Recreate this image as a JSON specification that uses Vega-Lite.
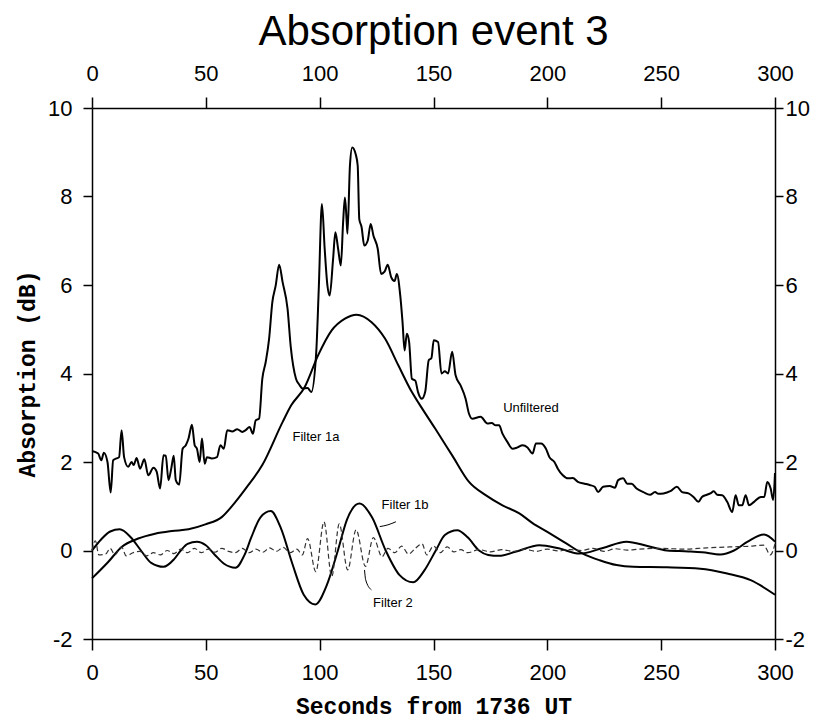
{
  "$schema": "https://vega.github.io/schema/vega-lite/v6.json",
  "width": 683,
  "height": 531,
  "autosize": "none",
  "padding": {"left": 92, "top": 108, "right": 41, "bottom": 83},
  "background": "white",
  "title": {"text": "Absorption event 3", "font": "Liberation Sans", "fontSize": 42, "fontWeight": "normal", "color": "black", "anchor": "middle", "offset": 8},
  "config": {"view": {"stroke": null}},
  "datasets": {
    "solid": [
      {"series":"Unfiltered","t":0,"v":2.25},{"series":"Unfiltered","t":2.7,"v":2.19},{"series":"Unfiltered","t":4.1,"v":2.04},{"series":"Unfiltered","t":5.2,"v":2.21},{"series":"Unfiltered","t":6.8,"v":2.0},{"series":"Unfiltered","t":8.2,"v":1.31},{"series":"Unfiltered","t":9.3,"v":2.04},{"series":"Unfiltered","t":10.7,"v":2.08},{"series":"Unfiltered","t":11.9,"v":2.11},{"series":"Unfiltered","t":13.0,"v":2.72},{"series":"Unfiltered","t":14.1,"v":2.11},{"series":"Unfiltered","t":15.9,"v":1.89},{"series":"Unfiltered","t":17.4,"v":2.0},{"series":"Unfiltered","t":18.3,"v":1.93},{"series":"Unfiltered","t":19.6,"v":2.09},{"series":"Unfiltered","t":21.1,"v":1.85},{"series":"Unfiltered","t":23.0,"v":2.06},{"series":"Unfiltered","t":24.7,"v":1.7},{"series":"Unfiltered","t":27.0,"v":1.87},{"series":"Unfiltered","t":28.4,"v":1.78},{"series":"Unfiltered","t":29.9,"v":1.4},{"series":"Unfiltered","t":31.4,"v":2.15},{"series":"Unfiltered","t":32.4,"v":2.14},{"series":"Unfiltered","t":33.6,"v":1.59},{"series":"Unfiltered","t":34.8,"v":1.85},{"series":"Unfiltered","t":35.9,"v":2.14},{"series":"Unfiltered","t":36.8,"v":1.59},{"series":"Unfiltered","t":38.3,"v":1.49},{"series":"Unfiltered","t":39.8,"v":2.3},{"series":"Unfiltered","t":41.2,"v":2.38},{"series":"Unfiltered","t":42.4,"v":2.53},{"series":"Unfiltered","t":43.9,"v":2.84},{"series":"Unfiltered","t":45.1,"v":2.38},{"series":"Unfiltered","t":46.1,"v":2.3},{"series":"Unfiltered","t":47.3,"v":2.0},{"series":"Unfiltered","t":48.3,"v":2.53},{"series":"Unfiltered","t":49.5,"v":1.96},{"series":"Unfiltered","t":50.5,"v":2.11},{"series":"Unfiltered","t":52.7,"v":2.08},{"series":"Unfiltered","t":54.9,"v":2.11},{"series":"Unfiltered","t":56.4,"v":2.38},{"series":"Unfiltered","t":57.9,"v":2.3},{"series":"Unfiltered","t":59.4,"v":2.72},{"series":"Unfiltered","t":61.6,"v":2.69},{"series":"Unfiltered","t":63.8,"v":2.74},{"series":"Unfiltered","t":66.0,"v":2.68},{"series":"Unfiltered","t":67.5,"v":2.72},{"series":"Unfiltered","t":69.2,"v":2.79},{"series":"Unfiltered","t":70.7,"v":2.64},{"series":"Unfiltered","t":71.9,"v":2.94},{"series":"Unfiltered","t":73.4,"v":2.98},{"series":"Unfiltered","t":74.8,"v":3.88},{"series":"Unfiltered","t":76.3,"v":4.26},{"series":"Unfiltered","t":77.8,"v":4.79},{"series":"Unfiltered","t":79.2,"v":5.61},{"series":"Unfiltered","t":80.7,"v":5.99},{"series":"Unfiltered","t":82.2,"v":6.46},{"series":"Unfiltered","t":83.7,"v":6.07},{"series":"Unfiltered","t":85.9,"v":5.46},{"series":"Unfiltered","t":87.3,"v":4.6},{"series":"Unfiltered","t":89.6,"v":3.88},{"series":"Unfiltered","t":91.0,"v":3.75},{"series":"Unfiltered","t":92.5,"v":3.66},{"series":"Unfiltered","t":94.7,"v":3.67},{"series":"Unfiltered","t":96.3,"v":3.58},{"series":"Unfiltered","t":98.5,"v":4.49},{"series":"Unfiltered","t":99.6,"v":5.91},{"series":"Unfiltered","t":101.0,"v":7.83},{"series":"Unfiltered","t":102.2,"v":6.82},{"series":"Unfiltered","t":103.4,"v":5.99},{"series":"Unfiltered","t":104.4,"v":5.76},{"series":"Unfiltered","t":105.9,"v":6.59},{"series":"Unfiltered","t":106.9,"v":7.19},{"series":"Unfiltered","t":108.1,"v":6.82},{"series":"Unfiltered","t":109.3,"v":6.44},{"series":"Unfiltered","t":110.3,"v":7.42},{"series":"Unfiltered","t":111.1,"v":7.98},{"series":"Unfiltered","t":111.8,"v":7.49},{"series":"Unfiltered","t":112.2,"v":7.16},{"series":"Unfiltered","t":113.3,"v":8.7},{"series":"Unfiltered","t":114.3,"v":9.11},{"series":"Unfiltered","t":115.8,"v":8.96},{"series":"Unfiltered","t":116.7,"v":8.7},{"series":"Unfiltered","t":117.4,"v":7.49},{"series":"Unfiltered","t":118.4,"v":7.31},{"series":"Unfiltered","t":119.6,"v":6.89},{"series":"Unfiltered","t":121.1,"v":7.0},{"series":"Unfiltered","t":122.4,"v":7.38},{"series":"Unfiltered","t":123.6,"v":7.12},{"series":"Unfiltered","t":125.5,"v":6.82},{"series":"Unfiltered","t":127.0,"v":6.25},{"series":"Unfiltered","t":128.5,"v":6.3},{"series":"Unfiltered","t":129.9,"v":6.46},{"series":"Unfiltered","t":131.4,"v":6.18},{"series":"Unfiltered","t":132.9,"v":6.09},{"series":"Unfiltered","t":133.9,"v":6.25},{"series":"Unfiltered","t":135.4,"v":5.76},{"series":"Unfiltered","t":136.4,"v":5.16},{"series":"Unfiltered","t":137.3,"v":4.52},{"series":"Unfiltered","t":138.3,"v":4.9},{"series":"Unfiltered","t":139.3,"v":4.71},{"series":"Unfiltered","t":140.5,"v":3.88},{"series":"Unfiltered","t":142.0,"v":3.84},{"series":"Unfiltered","t":143.2,"v":3.58},{"series":"Unfiltered","t":144.9,"v":3.43},{"series":"Unfiltered","t":146.4,"v":3.6},{"series":"Unfiltered","t":147.9,"v":4.3},{"series":"Unfiltered","t":149.1,"v":4.35},{"series":"Unfiltered","t":150.1,"v":4.75},{"series":"Unfiltered","t":152.0,"v":4.71},{"series":"Unfiltered","t":153.5,"v":4.0},{"series":"Unfiltered","t":155.0,"v":4.05},{"series":"Unfiltered","t":156.4,"v":4.0},{"series":"Unfiltered","t":158.2,"v":4.49},{"series":"Unfiltered","t":159.7,"v":3.96},{"series":"Unfiltered","t":161.9,"v":3.73},{"series":"Unfiltered","t":164.1,"v":3.43},{"series":"Unfiltered","t":165.6,"v":3.09},{"series":"Unfiltered","t":167.0,"v":2.98},{"series":"Unfiltered","t":170.7,"v":3.02},{"series":"Unfiltered","t":173.7,"v":2.87},{"series":"Unfiltered","t":175.6,"v":2.88},{"series":"Unfiltered","t":177.3,"v":2.83},{"series":"Unfiltered","t":178.8,"v":2.83},{"series":"Unfiltered","t":180.3,"v":2.64},{"series":"Unfiltered","t":182.5,"v":2.45},{"series":"Unfiltered","t":184.7,"v":2.3},{"series":"Unfiltered","t":186.9,"v":2.33},{"series":"Unfiltered","t":189.1,"v":2.38},{"series":"Unfiltered","t":191.3,"v":2.33},{"series":"Unfiltered","t":193.5,"v":2.19},{"series":"Unfiltered","t":195.0,"v":2.42},{"series":"Unfiltered","t":197.2,"v":2.42},{"series":"Unfiltered","t":199.4,"v":2.3},{"series":"Unfiltered","t":200.9,"v":2.11},{"series":"Unfiltered","t":203.1,"v":2.0},{"series":"Unfiltered","t":204.6,"v":1.85},{"series":"Unfiltered","t":206.8,"v":1.7},{"series":"Unfiltered","t":209.0,"v":1.63},{"series":"Unfiltered","t":211.2,"v":1.64},{"series":"Unfiltered","t":213.4,"v":1.55},{"series":"Unfiltered","t":216.4,"v":1.51},{"series":"Unfiltered","t":218.6,"v":1.48},{"series":"Unfiltered","t":220.8,"v":1.44},{"series":"Unfiltered","t":222.3,"v":1.32},{"series":"Unfiltered","t":224.5,"v":1.44},{"series":"Unfiltered","t":227.4,"v":1.46},{"series":"Unfiltered","t":229.7,"v":1.42},{"series":"Unfiltered","t":231.1,"v":1.59},{"series":"Unfiltered","t":233.3,"v":1.63},{"series":"Unfiltered","t":235.1,"v":1.51},{"series":"Unfiltered","t":237.0,"v":1.51},{"series":"Unfiltered","t":239.2,"v":1.4},{"series":"Unfiltered","t":242.2,"v":1.32},{"series":"Unfiltered","t":245.1,"v":1.26},{"series":"Unfiltered","t":247.3,"v":1.32},{"series":"Unfiltered","t":248.8,"v":1.28},{"series":"Unfiltered","t":251.0,"v":1.29},{"series":"Unfiltered","t":254.0,"v":1.34},{"series":"Unfiltered","t":256.9,"v":1.44},{"series":"Unfiltered","t":259.2,"v":1.32},{"series":"Unfiltered","t":262.0,"v":1.29},{"series":"Unfiltered","t":264.2,"v":1.21},{"series":"Unfiltered","t":266.4,"v":1.1},{"series":"Unfiltered","t":267.9,"v":1.21},{"series":"Unfiltered","t":270.1,"v":1.26},{"series":"Unfiltered","t":271.6,"v":1.29},{"series":"Unfiltered","t":273.1,"v":1.34},{"series":"Unfiltered","t":274.6,"v":1.26},{"series":"Unfiltered","t":276.8,"v":1.25},{"series":"Unfiltered","t":279.0,"v":1.1},{"series":"Unfiltered","t":281.2,"v":0.87},{"series":"Unfiltered","t":282.7,"v":1.25},{"series":"Unfiltered","t":284.1,"v":1.02},{"series":"Unfiltered","t":285.6,"v":1.02},{"series":"Unfiltered","t":287.1,"v":1.25},{"series":"Unfiltered","t":288.6,"v":1.02},{"series":"Unfiltered","t":290.8,"v":1.1},{"series":"Unfiltered","t":293.8,"v":1.21},{"series":"Unfiltered","t":295.3,"v":1.21},{"series":"Unfiltered","t":296.6,"v":1.55},{"series":"Unfiltered","t":298.1,"v":1.4},{"series":"Unfiltered","t":299.2,"v":1.14},{"series":"Unfiltered","t":300,"v":1.75},
      {"series":"Filter 1a","t":0,"v":-0.63},{"series":"Filter 1a","t":7.1,"v":-0.26},{"series":"Filter 1a","t":13.0,"v":0.08},{"series":"Filter 1a","t":20.3,"v":0.27},{"series":"Filter 1a","t":27.7,"v":0.38},{"series":"Filter 1a","t":35.1,"v":0.44},{"series":"Filter 1a","t":42.4,"v":0.48},{"series":"Filter 1a","t":49.8,"v":0.59},{"series":"Filter 1a","t":57.1,"v":0.76},{"series":"Filter 1a","t":63.0,"v":1.1},{"series":"Filter 1a","t":67.5,"v":1.4},{"series":"Filter 1a","t":74.8,"v":1.93},{"series":"Filter 1a","t":83.7,"v":2.9},{"series":"Filter 1a","t":87.5,"v":3.28},{"series":"Filter 1a","t":93.4,"v":3.69},{"series":"Filter 1a","t":99.3,"v":4.41},{"series":"Filter 1a","t":105.2,"v":4.97},{"series":"Filter 1a","t":111.1,"v":5.24},{"series":"Filter 1a","t":116.2,"v":5.33},{"series":"Filter 1a","t":122.8,"v":5.16},{"series":"Filter 1a","t":128.7,"v":4.79},{"series":"Filter 1a","t":134.6,"v":4.18},{"series":"Filter 1a","t":140.5,"v":3.58},{"series":"Filter 1a","t":143.5,"v":3.33},{"series":"Filter 1a","t":150.8,"v":2.75},{"series":"Filter 1a","t":158.2,"v":2.15},{"series":"Filter 1a","t":165.6,"v":1.55},{"series":"Filter 1a","t":172.9,"v":1.25},{"series":"Filter 1a","t":180.3,"v":1.02},{"series":"Filter 1a","t":187.7,"v":0.84},{"series":"Filter 1a","t":193.5,"v":0.62},{"series":"Filter 1a","t":200.0,"v":0.42},{"series":"Filter 1a","t":208.3,"v":0.16},{"series":"Filter 1a","t":215.6,"v":-0.07},{"series":"Filter 1a","t":223.0,"v":-0.22},{"series":"Filter 1a","t":230.4,"v":-0.33},{"series":"Filter 1a","t":237.7,"v":-0.37},{"series":"Filter 1a","t":252.5,"v":-0.38},{"series":"Filter 1a","t":267.2,"v":-0.41},{"series":"Filter 1a","t":279.0,"v":-0.52},{"series":"Filter 1a","t":289.3,"v":-0.67},{"series":"Filter 1a","t":300,"v":-1.0},
      {"series":"Filter 1b","t":0,"v":0.0},{"series":"Filter 1b","t":4,"v":0.25},{"series":"Filter 1b","t":8,"v":0.43},{"series":"Filter 1b","t":12.2,"v":0.48},{"series":"Filter 1b","t":17,"v":0.3},{"series":"Filter 1b","t":21.5,"v":0.0},{"series":"Filter 1b","t":26,"v":-0.28},{"series":"Filter 1b","t":31.4,"v":-0.37},{"series":"Filter 1b","t":36,"v":-0.2},{"series":"Filter 1b","t":39,"v":0.0},{"series":"Filter 1b","t":42,"v":0.15},{"series":"Filter 1b","t":46.1,"v":0.2},{"series":"Filter 1b","t":50,"v":0.12},{"series":"Filter 1b","t":54,"v":-0.1},{"series":"Filter 1b","t":58,"v":-0.3},{"series":"Filter 1b","t":63,"v":-0.39},{"series":"Filter 1b","t":67,"v":-0.1},{"series":"Filter 1b","t":70,"v":0.3},{"series":"Filter 1b","t":74,"v":0.75},{"series":"Filter 1b","t":78.5,"v":0.89},{"series":"Filter 1b","t":83,"v":0.5},{"series":"Filter 1b","t":88,"v":-0.3},{"series":"Filter 1b","t":93,"v":-1.0},{"series":"Filter 1b","t":98.1,"v":-1.22},{"series":"Filter 1b","t":103,"v":-0.8},{"series":"Filter 1b","t":108,"v":0.0},{"series":"Filter 1b","t":112,"v":0.7},{"series":"Filter 1b","t":117.5,"v":1.06},{"series":"Filter 1b","t":123,"v":0.75},{"series":"Filter 1b","t":129,"v":0.0},{"series":"Filter 1b","t":135,"v":-0.55},{"series":"Filter 1b","t":141.1,"v":-0.72},{"series":"Filter 1b","t":146,"v":-0.45},{"series":"Filter 1b","t":151,"v":0.0},{"series":"Filter 1b","t":155,"v":0.35},{"series":"Filter 1b","t":160.4,"v":0.46},{"series":"Filter 1b","t":165,"v":0.3},{"series":"Filter 1b","t":170,"v":0.0},{"series":"Filter 1b","t":174,"v":-0.1},{"series":"Filter 1b","t":178.8,"v":-0.12},{"series":"Filter 1b","t":186,"v":-0.03},{"series":"Filter 1b","t":196.5,"v":0.12},{"series":"Filter 1b","t":205,"v":0.05},{"series":"Filter 1b","t":214.2,"v":-0.07},{"series":"Filter 1b","t":224,"v":0.05},{"series":"Filter 1b","t":234.8,"v":0.2},{"series":"Filter 1b","t":244,"v":0.1},{"series":"Filter 1b","t":252.5,"v":0.0},{"series":"Filter 1b","t":262,"v":-0.02},{"series":"Filter 1b","t":268,"v":-0.04},{"series":"Filter 1b","t":276,"v":-0.09},{"series":"Filter 1b","t":282,"v":0.0},{"series":"Filter 1b","t":288,"v":0.2},{"series":"Filter 1b","t":295.2,"v":0.36},{"series":"Filter 1b","t":300,"v":0.2}
    ],
    "dashed": [
      {"t":0,"v":0.0},{"t":1.5,"v":0.22},{"t":3,"v":-0.1},{"t":6,"v":-0.08},{"t":8,"v":0.05},{"t":10,"v":-0.1},{"t":13,"v":0.08},{"t":15,"v":-0.12},{"t":18,"v":-0.05},{"t":21,"v":-0.02},{"t":24,"v":-0.12},{"t":27,"v":-0.05},{"t":30,"v":-0.1},{"t":33,"v":0.0},{"t":36,"v":-0.07},{"t":39,"v":0.03},{"t":42,"v":-0.05},{"t":45,"v":0.05},{"t":48,"v":-0.05},{"t":51,"v":0.03},{"t":54,"v":-0.04},{"t":57,"v":0.05},{"t":60,"v":-0.02},{"t":63,"v":-0.05},{"t":66,"v":0.05},{"t":69,"v":-0.05},{"t":72,"v":0.03},{"t":75,"v":-0.04},{"t":78,"v":0.06},{"t":81,"v":-0.02},{"t":84,"v":0.07},{"t":87,"v":-0.05},{"t":90,"v":0.03},{"t":92.4,"v":-0.1},{"t":94.7,"v":0.27},{"t":98.3,"v":-0.48},{"t":101.9,"v":0.65},{"t":105.3,"v":-0.59},{"t":108.6,"v":0.6},{"t":112.3,"v":-0.44},{"t":116.0,"v":0.47},{"t":120.1,"v":-0.36},{"t":123.6,"v":0.29},{"t":127.4,"v":-0.14},{"t":130,"v":0.05},{"t":133,"v":-0.05},{"t":136,"v":0.1},{"t":139,"v":-0.08},{"t":142,"v":0.05},{"t":145,"v":0.15},{"t":147,"v":-0.1},{"t":150,"v":0.1},{"t":153,"v":-0.05},{"t":156,"v":0.08},{"t":159,"v":-0.03},{"t":162,"v":0.02},{"t":165,"v":-0.05},{"t":170,"v":0.02},{"t":175,"v":-0.03},{"t":180,"v":0.02},{"t":185,"v":-0.02},{"t":190,"v":0.03},{"t":195,"v":-0.02},{"t":200,"v":0.03},{"t":205,"v":-0.01},{"t":210,"v":0.02},{"t":215,"v":0.0},{"t":220,"v":0.05},{"t":225,"v":-0.02},{"t":230,"v":0.04},{"t":235,"v":0.01},{"t":240,"v":0.03},{"t":250,"v":0.05},{"t":260,"v":0.03},{"t":270,"v":0.06},{"t":280,"v":0.08},{"t":290,"v":0.1},{"t":295,"v":0.12},{"t":298,"v":-0.1},{"t":300,"v":0.15}
    ],
    "labels": [
      {"t":98.4,"v":2.56,"label":"Filter 1a"},
      {"t":192.8,"v":3.22,"label":"Unfiltered"},
      {"t":137.5,"v":1.03,"label":"Filter 1b"},
      {"t":132.2,"v":-1.19,"label":"Filter 2"}
    ],
    "leaders": [
      {"g":"a","i":1,"t":133.5,"v":0.65},{"g":"a","i":2,"t":130.0,"v":0.58},{"g":"a","i":3,"t":126.4,"v":0.54},
      {"g":"b","i":1,"t":122.7,"v":-0.89},{"g":"b","i":2,"t":120.2,"v":-0.66},{"g":"b","i":3,"t":119.7,"v":-0.44}
    ]
  },
  "layer": [
    {
      "data": {"name": "solid"},
      "mark": {"type": "line", "color": "black", "strokeWidth": 2, "interpolate": "monotone"},
      "encoding": {
        "x": {"field": "t", "type": "quantitative", "scale": {"domain": [0, 300], "nice": false},
          "axis": {"orient": "bottom", "values": [0,50,100,150,200,250,300], "labelExpr": "'' + datum.value", "grid": false, "domainColor": "black", "domainWidth": 1.5, "tickColor": "black", "tickWidth": 1.5, "tickSize": 11, "labelFont": "Liberation Sans", "labelFontSize": 22, "labelColor": "black", "labelPadding": 12, "labelFlush": false,
            "title": "Seconds from 1736 UT", "titleFont": "Liberation Mono", "titleFontSize": 23, "titleFontWeight": "bold", "titleColor": "black", "titlePadding": 12}},
        "y": {"field": "v", "type": "quantitative", "scale": {"domain": [-2, 10], "nice": false},
          "axis": {"orient": "left", "values": [-2,0,2,4,6,8,10], "labelExpr": "'' + datum.value", "grid": false, "domainColor": "black", "domainWidth": 1.5, "tickColor": "black", "tickWidth": 1.5, "tickSize": 9, "labelFont": "Liberation Sans", "labelFontSize": 22, "labelColor": "black", "labelPadding": 11, "labelFlush": false,
            "title": "Absorption (dB)", "titleFont": "Liberation Mono", "titleFontSize": 23, "titleFontWeight": "bold", "titleColor": "black", "titlePadding": 8}},
        "detail": {"field": "series", "type": "nominal"}
      }
    },
    {
      "data": {"name": "dashed"},
      "mark": {"type": "line", "color": "#333333", "strokeWidth": 1.2, "strokeDash": [5, 3], "interpolate": "monotone"},
      "encoding": {
        "x": {"field": "t", "type": "quantitative",
          "axis": {"orient": "top", "values": [0,50,100,150,200,250,300], "labelExpr": "'' + datum.value", "grid": false, "domainColor": "black", "domainWidth": 1.5, "tickColor": "black", "tickWidth": 1.5, "tickSize": 11, "labelFont": "Liberation Sans", "labelFontSize": 22, "labelColor": "black", "labelPadding": 12, "labelFlush": false, "title": null}},
        "y": {"field": "v", "type": "quantitative",
          "axis": {"orient": "right", "values": [-2,0,2,4,6,8,10], "labelExpr": "'' + datum.value", "grid": false, "domainColor": "black", "domainWidth": 1.5, "tickColor": "black", "tickWidth": 1.5, "tickSize": 8, "labelFont": "Liberation Sans", "labelFontSize": 22, "labelColor": "black", "labelPadding": 2, "labelFlush": false, "title": null}}
      }
    },
    {
      "data": {"name": "leaders"},
      "mark": {"type": "line", "color": "black", "strokeWidth": 1, "interpolate": "monotone"},
      "encoding": {
        "x": {"field": "t", "type": "quantitative", "axis": null},
        "y": {"field": "v", "type": "quantitative", "axis": null},
        "detail": {"field": "g", "type": "nominal"},
        "order": {"field": "i", "type": "quantitative"}
      }
    },
    {
      "data": {"name": "labels"},
      "mark": {"type": "text", "font": "Liberation Sans", "fontSize": 13, "color": "black", "align": "center", "baseline": "middle"},
      "encoding": {
        "x": {"field": "t", "type": "quantitative", "axis": null},
        "y": {"field": "v", "type": "quantitative", "axis": null},
        "text": {"field": "label", "type": "nominal"}
      }
    }
  ],
  "resolve": {"axis": {"x": "independent", "y": "independent"}}
}
